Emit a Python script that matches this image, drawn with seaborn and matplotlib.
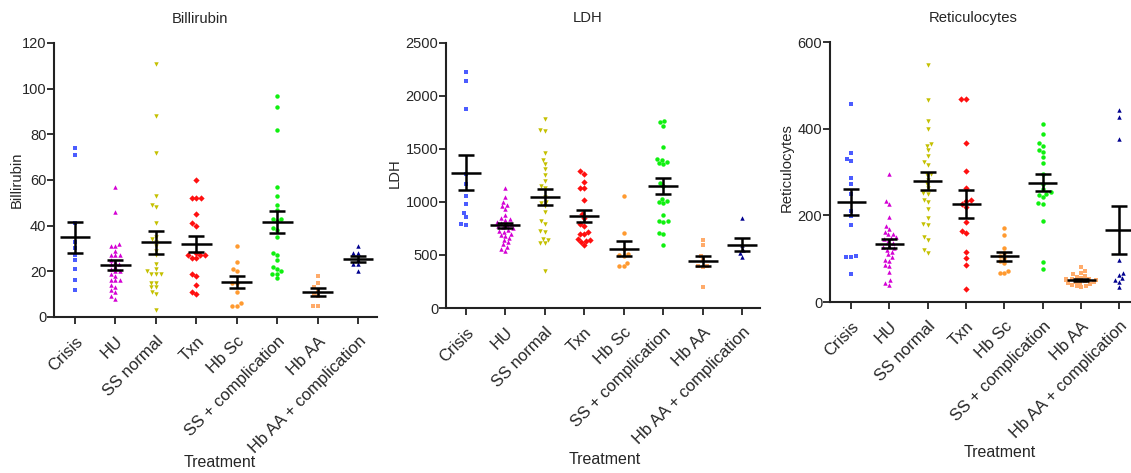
import numpy as np
import pandas as pd
import matplotlib
matplotlib.use("Agg")
import matplotlib.pyplot as plt
import seaborn as sns

sns.set_style("ticks")
plt.rcParams['font.family'] = ['Liberation Sans', 'DejaVu Sans']

categories = ["Crisis", "HU", "SS normal", "Txn", "Hb Sc",
              "SS + complication", "Hb AA", "Hb AA + complication"]

colors = ["#4b5cff", "#d400d4", "#c4c000", "#ff1010", "#ff9a30",
          "#10f010", "#ffab6a", "#00008f"]
markers = ["s", "^", "v", "D", "o", "o", "s", "^"]

# ---------------- Billirubin ----------------
bili_crisis = [74, 71, 41, 33, 30, 27, 25, 21, 16, 12]
bili_hu = [57, 46, 32, 31, 31, 29, 27, 27, 27, 25, 24, 23, 23, 22, 21, 20, 20,
           19, 18, 16, 16, 16, 14, 13, 12, 11, 9, 8]
bili_ss = [111, 88, 72, 53, 49, 48, 41, 35, 34, 33, 31, 29, 27, 23, 21, 20, 19,
           19, 19, 15, 15, 13, 13, 11, 10, 3]
bili_txn = [60, 52, 52, 52, 45, 41, 40, 28, 27, 27, 27, 26, 26, 19, 18, 14, 11, 10]
bili_sc = [31, 24, 21, 20, 15, 15, 11, 6, 5, 5]
bili_sscomp = [97, 92, 82, 57, 53, 49, 47, 43, 43, 42, 39, 38, 35, 28, 27, 25,
               22, 21, 20, 19, 19, 17]
bili_aa = [18, 15, 13, 12, 10, 9, 5, 5]
bili_aacomp = [31, 28, 28, 25, 23, 23, 20]

# ---------------- LDH ----------------
ldh_crisis = [2225, 2140, 1875, 1260, 1170, 1060, 980, 895, 855, 790, 785]
ldh_hu = [1130, 1050, 1000, 970, 960, 930, 880, 850, 840, 830, 810, 800, 790,
          780, 770, 760, 750, 740, 730, 720, 700, 690, 680, 660, 640, 620, 600,
          580, 560, 540]
ldh_ss = [1780, 1680, 1670, 1460, 1400, 1360, 1310, 1250, 1200, 1150, 1130, 1050,
          1000, 990, 960, 910, 820, 790, 730, 720, 650, 640, 610, 610, 350]
ldh_txn = [1290, 1265, 1190, 1135, 1135, 1015, 885, 850, 790, 770, 720, 700, 700,
           650, 640, 630, 620, 590]
ldh_sc = [1055, 705, 560, 510, 500, 490, 420, 400, 395]
ldh_sscomp = [1765, 1750, 1720, 1520, 1410, 1400, 1380, 1370, 1360, 1180, 1150,
              1030, 1010, 1000, 990, 880, 820, 820, 810, 710, 700, 590]
ldh_aa = [640, 590, 490, 450, 400, 395, 390, 200]
ldh_aacomp = [850, 590, 550, 520, 485]

# ---------------- Reticulocytes ----------------
ret_crisis = [458, 343, 330, 326, 285, 272, 250, 210, 198, 178, 106, 104, 103, 65]
ret_hu = [295, 233, 226, 197, 175, 168, 162, 158, 156, 150, 148, 145, 140, 137,
          130, 127, 125, 120, 116, 110, 104, 98, 95, 85, 84, 70, 50, 45, 40]
ret_ss = [548, 467, 418, 400, 364, 360, 350, 338, 322, 316, 296, 292, 282, 272,
          262, 252, 250, 236, 230, 214, 193, 180, 177, 151, 144, 120, 114]
ret_txn = [468, 468, 366, 302, 264, 235, 232, 226, 220, 185, 163, 160, 116, 101,
           85, 29]
ret_sc = [170, 155, 124, 112, 106, 101, 95, 90, 72, 68, 66]
ret_sscomp = [410, 388, 367, 360, 350, 346, 335, 320, 296, 273, 260, 254, 250,
              248, 243, 228, 226, 187, 92, 76]
ret_aa = [80, 72, 68, 64, 60, 58, 56, 54, 52, 52, 50, 50, 48, 47, 46, 45, 44,
          42, 40, 38, 36, 35]
ret_aacomp = [444, 427, 375, 98, 66, 62, 55, 50, 47, 34]

panels = [
    dict(title="Billirubin", ylabel="Billirubin",
         groups=[bili_crisis, bili_hu, bili_ss, bili_txn, bili_sc, bili_sscomp, bili_aa, bili_aacomp],
         ylim=(0, 120), yticks=[0, 20, 40, 60, 80, 100, 120],
         rect_px=(54, 377, 317, 43), xlim=(-0.52, 7.47),
         title_xy=(200, 19), ylab_xy=(17, 180), xlab_xy=(220, 462)),
    dict(title="LDH", ylabel="LDH",
         groups=[ldh_crisis, ldh_hu, ldh_ss, ldh_txn, ldh_sc, ldh_sscomp, ldh_aa, ldh_aacomp],
         ylim=(0, 2500), yticks=[0, 500, 1000, 1500, 2000, 2500],
         rect_px=(446, 760, 308, 43), xlim=(-0.5, 7.45),
         title_xy=(588, 18), ylab_xy=(395, 173), xlab_xy=(605, 459)),
    dict(title="Reticulocytes", ylabel="Reticulocytes",
         groups=[ret_crisis, ret_hu, ret_ss, ret_txn, ret_sc, ret_sscomp, ret_aa, ret_aacomp],
         ylim=(0, 600), yticks=[0, 200, 400, 600],
         rect_px=(830, 1131, 302, 42), xlim=(-0.55, 7.3),
         title_xy=(973, 18), ylab_xy=(787, 168), xlab_xy=(1000, 452)),
]

W, H = 1131, 473
fig = plt.figure(figsize=(W / 100, H / 100), dpi=100)

for p in panels:
    l, r, b, t = p["rect_px"]
    ax = fig.add_axes([l / W, (H - b) / H, (r - l) / W, (b - t) / H])
    rows = []
    for cat, vals in zip(categories, p["groups"]):
        for v in vals:
            rows.append((cat, v))
    df = pd.DataFrame(rows, columns=["Treatment", "value"])
    for cat, col, mk in zip(categories, colors, markers):
        sub = df[df["Treatment"] == cat]
        sns.swarmplot(data=sub, x="Treatment", y="value", order=categories,
                      color=col, marker=mk, size=3.2, linewidth=0, ax=ax,
                      warn_thresh=1.0)
    stats = df.groupby("Treatment", sort=False)["value"].agg(["mean", "sem"]).reindex(categories)
    xs = np.arange(len(categories))
    ax.errorbar(xs, stats["mean"], yerr=stats["sem"], fmt="none", ecolor="black",
                elinewidth=1.8, capsize=6, capthick=1.8, zorder=10)
    ax.hlines(stats["mean"], xs - 0.38, xs + 0.38, colors="black", linewidth=1.8, zorder=10)

    ax.set_xlim(*p["xlim"])
    ax.set_ylim(*p["ylim"])
    ax.set_yticks(p["yticks"])
    ax.set_xticks(xs)
    ax.set_xticklabels(categories, rotation=45, ha="right", rotation_mode="anchor")
    ax.set_xlabel("")
    ax.set_ylabel("")
    ax.tick_params(axis="both", length=5, width=1.3, color="#222222", direction="out")
    ax.tick_params(axis="y", labelsize=10.5, pad=0.5)
    ax.tick_params(axis="x", labelsize=12, pad=7)
    for s in ["top", "right"]:
        ax.spines[s].set_visible(False)
    for s in ["left", "bottom"]:
        ax.spines[s].set_linewidth(1.5)
        ax.spines[s].set_color("#222222")
    fig.text(p["title_xy"][0] / W, 1 - p["title_xy"][1] / H, p["title"],
             ha="center", va="center", fontsize=10.7)
    fig.text(p["ylab_xy"][0] / W, 1 - p["ylab_xy"][1] / H, p["ylabel"],
             ha="center", va="center", rotation=90, fontsize=10.7)
    fig.text(p["xlab_xy"][0] / W, 1 - p["xlab_xy"][1] / H, "Treatment",
             ha="center", va="center", fontsize=11.5)

fig.savefig("out.png", dpi=100)
